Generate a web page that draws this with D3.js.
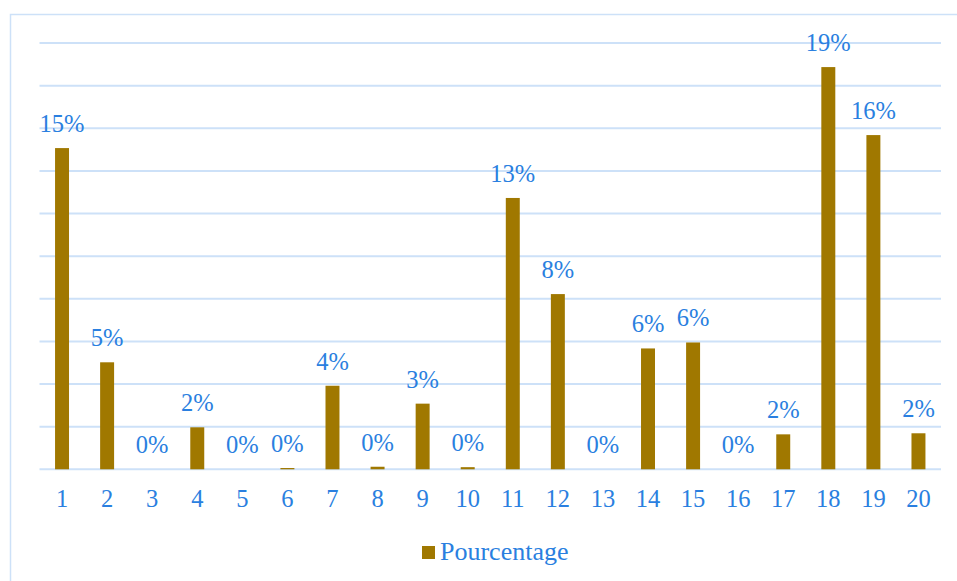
<!DOCTYPE html>
<html>
<head>
<meta charset="utf-8">
<script src="https://cdn.jsdelivr.net/npm/d3@7"></script>
<style>
  body { margin: 0; background: #fff; }
  svg { display: block; }
</style>
</head>
<body>
<svg class="chart"></svg>
<script>
// categories and values (percent)
var categories = ["1", "2", "3", "4", "5", "6", "7", "8", "9", "10",
                  "11", "12", "13", "14", "15", "16", "17", "18", "19", "20"];
var values = [15.07, 5.02, 0, 1.97, 0, 0.06, 3.92, 0.12, 3.08, 0.1,
              12.73, 8.22, 0, 5.67, 5.95, 0, 1.64, 18.87, 15.68, 1.69];
var gridTicks = [0, 2, 4, 6, 8, 10, 12, 14, 16, 18, 20];
var seriesName = "Pourcentage";

var width = 957,
    height = 581;
var barColor = "#a07800";
var textColor = "#2a7fe0";
var gridColor = "#cde1f8";
var font = "'Liberation Serif', 'DejaVu Serif', serif";

var svg = d3.select(".chart")
    .attr("width", width)
    .attr("height", height);

// chart frame (only top and left edges are in view)
svg.append("rect")
    .attr("x", 10.5)
    .attr("y", 14.5)
    .attr("width", 1000)
    .attr("height", 1000)
    .attr("fill", "none")
    .attr("stroke", gridColor)
    .attr("stroke-width", 1.5);

var x = d3.scaleBand()
    .domain(categories)
    .range([39.5, 941])
    .paddingInner(0.69)
    .paddingOuter(0.345);

var y = d3.scaleLinear()
    .domain([0, 20])
    .range([469.3, 43]);

//grid lines
svg.append("g").selectAll("line").data(gridTicks).enter().append("line")
    .attr("x1", 39.5)
    .attr("x2", 941)
    .attr("y1", function(d) { return y(d); })
    .attr("y2", function(d) { return y(d); })
    .attr("stroke", gridColor)
    .attr("stroke-width", 2);

//bars
svg.append("g").selectAll("rect").data(values).enter().append("rect")
    .attr("x", function(d, i) { return x(categories[i]); })
    .attr("y", function(d) { return y(d); })
    .attr("width", x.bandwidth())
    .attr("height", function(d) { return y(0) - y(d); })
    .attr("fill", barColor);

//value labels
svg.append("g").selectAll("text").data(values).enter().append("text")
    .attr("x", function(d, i) { return x(categories[i]) + x.bandwidth() / 2; })
    .attr("y", function(d) { return y(d) - 16; })
    .attr("text-anchor", "middle")
    .attr("font-family", font)
    .attr("font-size", 24.5)
    .attr("fill", textColor)
    .text(function(d) { return Math.round(d) + "%"; });

//x axis labels
var axis = d3.axisBottom(x).tickSize(0).tickPadding(0);
var axisG = svg.append("g")
    .attr("transform", "translate(0,506.7)")
    .call(axis);
axisG.select(".domain").remove();
axisG.selectAll("text")
    .attr("dy", 0)
    .attr("y", 0)
    .attr("font-family", font)
    .attr("font-size", 24.5)
    .attr("fill", textColor);

//legend
var legend = svg.append("g").attr("transform", "translate(422,546)");
legend.append("rect")
    .attr("width", 13)
    .attr("height", 13)
    .attr("fill", barColor);
legend.append("text")
    .attr("x", 18)
    .attr("y", 14)
    .attr("font-family", font)
    .attr("font-size", 26)
    .attr("fill", textColor)
    .text(seriesName);
</script>
</body>
</html>
